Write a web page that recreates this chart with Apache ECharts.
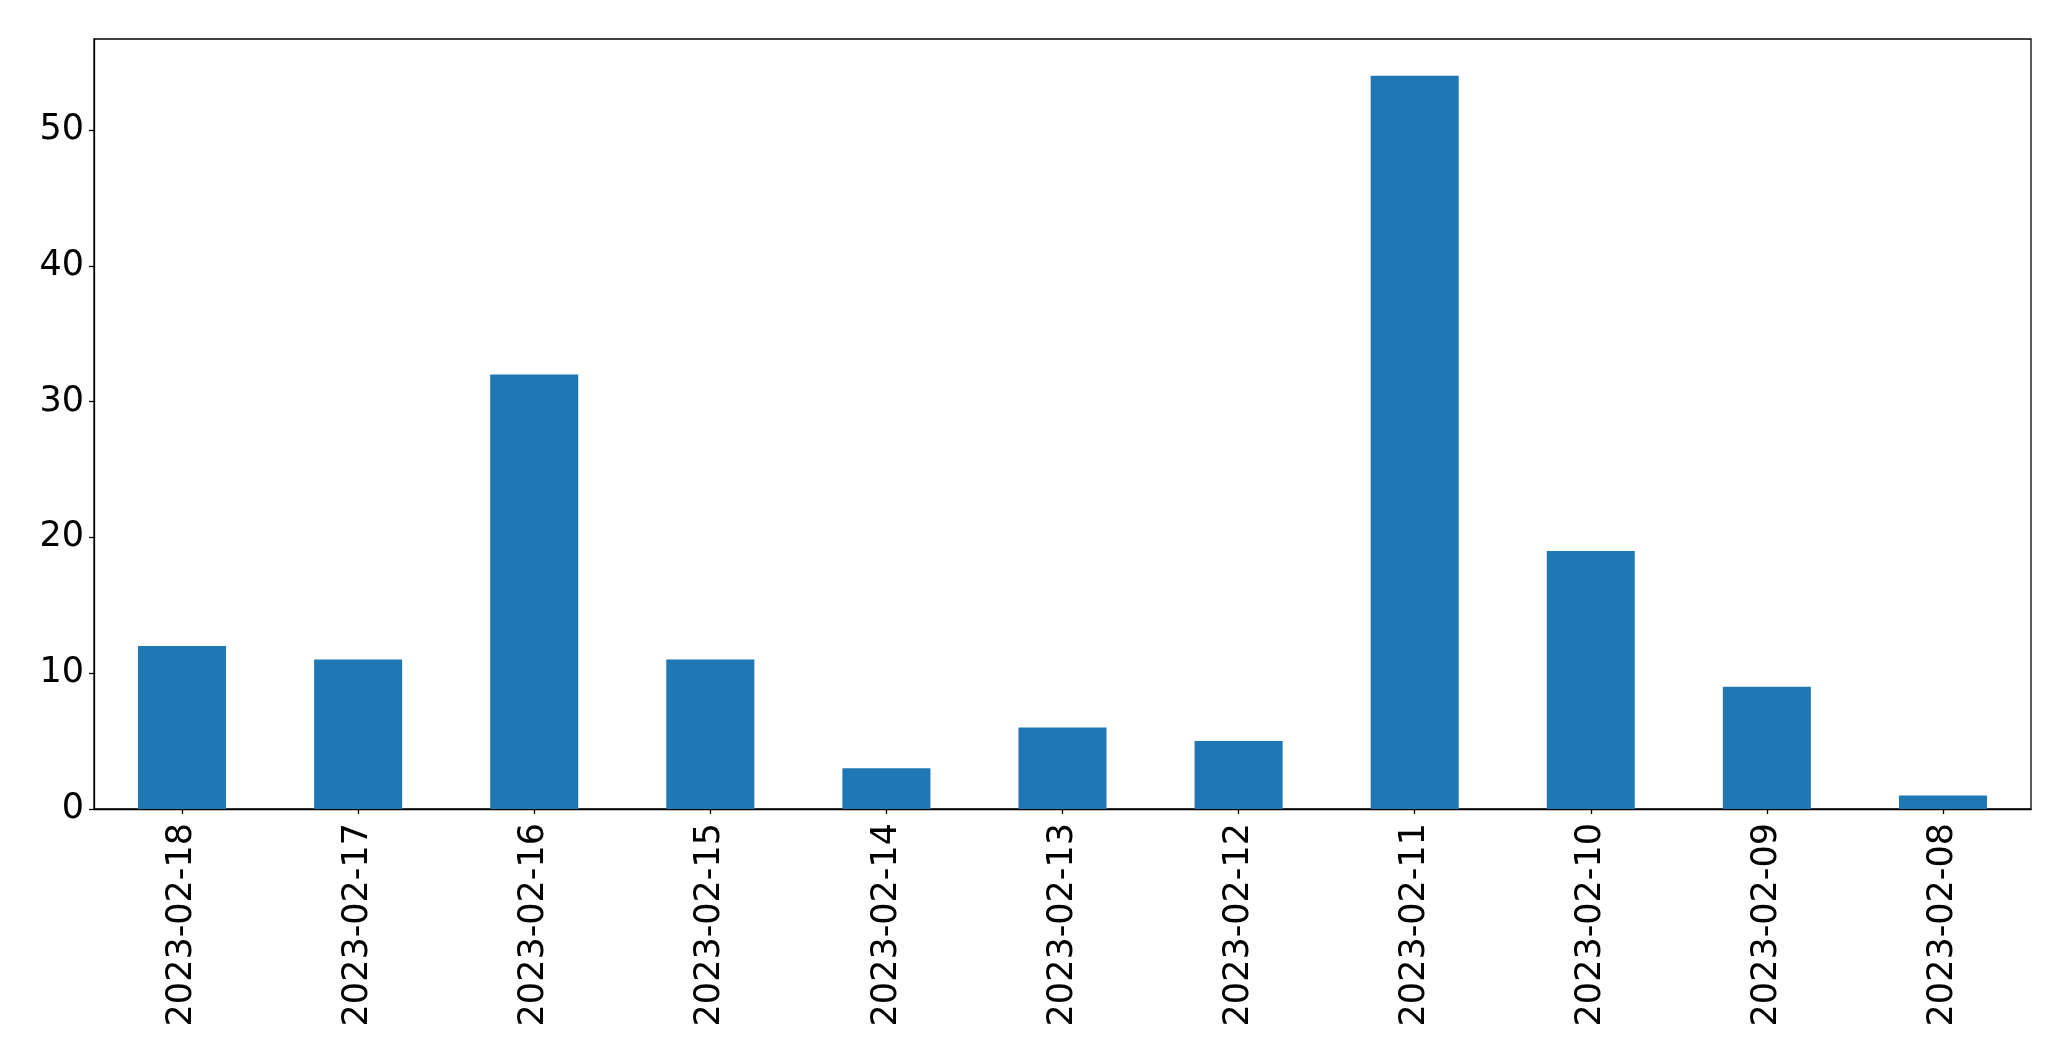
<!DOCTYPE html>
<html><head><meta charset="utf-8">
<script src="https://cdn.jsdelivr.net/npm/echarts@6/dist/echarts.min.js"></script>
<style>html,body{margin:0;padding:0;background:#fff}#c{width:2071px;height:1061px}</style>
</head><body><div id="c"></div>
<script>
const categories = ["2023-02-18","2023-02-17","2023-02-16","2023-02-15","2023-02-14","2023-02-13","2023-02-12","2023-02-11","2023-02-10","2023-02-09","2023-02-08"];
const counts = [12, 11, 32, 11, 3, 6, 5, 54, 19, 9, 1];
const yTicks = [0, 10, 20, 30, 40, 50];
const yMax = 56.7;

const chart = echarts.init(document.getElementById('c'), null, {renderer: 'canvas'});
const font = {fontFamily: 'DejaVu Sans', fontSize: 35, color: '#000'};
chart.setOption({
  animation: false,
  backgroundColor: '#fff',
  grid: {left: 94, top: 39, right: 40, bottom: 252, show: true, borderColor: '#000', borderWidth: 1.3, backgroundColor: 'transparent'},
  xAxis: {
    type: 'category', data: categories, boundaryGap: true,
    axisLine: {show: true, lineStyle: {color: '#000', width: 1.3}},
    axisTick: {show: true, alignWithLabel: true, length: 5, lineStyle: {color: '#000', width: 1.3}},
    axisLabel: Object.assign({rotate: 90, margin: 14, interval: 0}, font),
    splitLine: {show: false}
  },
  yAxis: {
    type: 'value', min: 0, max: yMax,
    axisLine: {show: true, lineStyle: {color: '#000', width: 1.3}},
    axisTick: {show: true, length: 5, customValues: yTicks, lineStyle: {color: '#000', width: 1.3}},
    axisLabel: Object.assign({margin: 10, customValues: yTicks}, font),
    splitLine: {show: false}
  },
  series: [{
    type: 'bar', data: counts, barWidth: '50%',
    itemStyle: {color: '#1f77b4'}
  }]
});
</script></body></html>
